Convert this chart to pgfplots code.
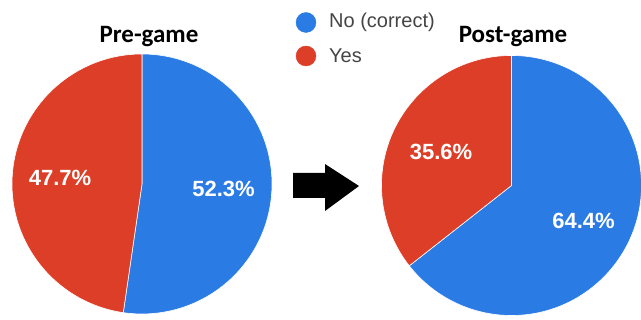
\documentclass[border=0pt]{standalone}
\usepackage{pgfplots}
\pgfplotsset{compat=1.18}
\usepackage{fontspec}
\setmainfont{Liberation Sans}
\newfontfamily\titlefont{Carlito}
\definecolor{pblue}{HTML}{2B7BE5}
\definecolor{pred}{HTML}{DD3E27}
\definecolor{legtext}{HTML}{444444}
% data: percentage answering "No (correct)" and "Yes"
\def\preNo{52.3}
\def\preYes{47.7}
\def\postNo{64.4}
\def\postYes{35.6}
\begin{document}
\begin{tikzpicture}
\useasboundingbox (0,0) rectangle (641pt,320pt);
\begin{axis}[x=1pt,y=1pt,xmin=0,xmax=641,ymin=0,ymax=320,
  hide axis, clip=false, anchor=origin, at={(0,0)}]
% Pre-game pie, centre (142,136), r=130
\addplot[fill=pblue, draw=white, line width=0.6pt, forget plot] coordinates {(142,136) (142,266)}
  arc[start angle=90, end angle={90-3.6*\preNo}, radius=130pt] -- cycle;
\addplot[fill=pred, draw=white, line width=0.6pt, forget plot] coordinates {(142,136) (142,266)}
  arc[start angle=90, end angle={90+3.6*\preYes}, radius=130pt] -- cycle;
% Post-game pie, centre (511.5,134.5), r=130
\addplot[fill=pblue, draw=white, line width=0.6pt, forget plot] coordinates {(511.5,134.5) (511.5,264.5)}
  arc[start angle=90, end angle={90-3.6*\postNo}, radius=130pt] -- cycle;
\addplot[fill=pred, draw=white, line width=0.6pt, forget plot] coordinates {(511.5,134.5) (511.5,264.5)}
  arc[start angle=90, end angle={90+3.6*\postYes}, radius=130pt] -- cycle;
% arrow
\addplot[fill=black, draw=none, forget plot] coordinates {(293,147) (325,147) (325,156) (359,134) (325,109) (325,122) (293,122)} -- cycle;
% legend markers
\addplot[only marks, mark=*, mark size=10pt, color=pblue, forget plot] coordinates {(306,297.5)};
\addplot[only marks, mark=*, mark size=10pt, color=pred, forget plot] coordinates {(306,264)};
\node[anchor=base west, inner sep=0, text=legtext, font=\fontsize{20}{24}\selectfont] at (axis cs:329,292) {No (correct)};
\node[anchor=base west, inner sep=0, text=legtext, font=\fontsize{20}{24}\selectfont] at (axis cs:329,257) {Yes};
% titles
\node[anchor=base, inner sep=0, font=\titlefont\bfseries\fontsize{25}{30}\selectfont] at (axis cs:149,277) {Pre-game};
\node[anchor=base, inner sep=0, font=\titlefont\bfseries\fontsize{25}{30}\selectfont] at (axis cs:513,277) {Post-game};
% slice labels
\node[anchor=base, inner sep=0, text=white, font=\bfseries\fontsize{22}{26}\selectfont] at (axis cs:60,134) {\preYes\%};
\node[anchor=base, inner sep=0, text=white, font=\bfseries\fontsize{22}{26}\selectfont] at (axis cs:223.5,123) {\preNo\%};
\node[anchor=base, inner sep=0, text=white, font=\bfseries\fontsize{22}{26}\selectfont] at (axis cs:441,160) {\postYes\%};
\node[anchor=base, inner sep=0, text=white, font=\bfseries\fontsize{22}{26}\selectfont] at (axis cs:583.5,91) {\postNo\%};
\end{axis}
\end{tikzpicture}
\end{document}
